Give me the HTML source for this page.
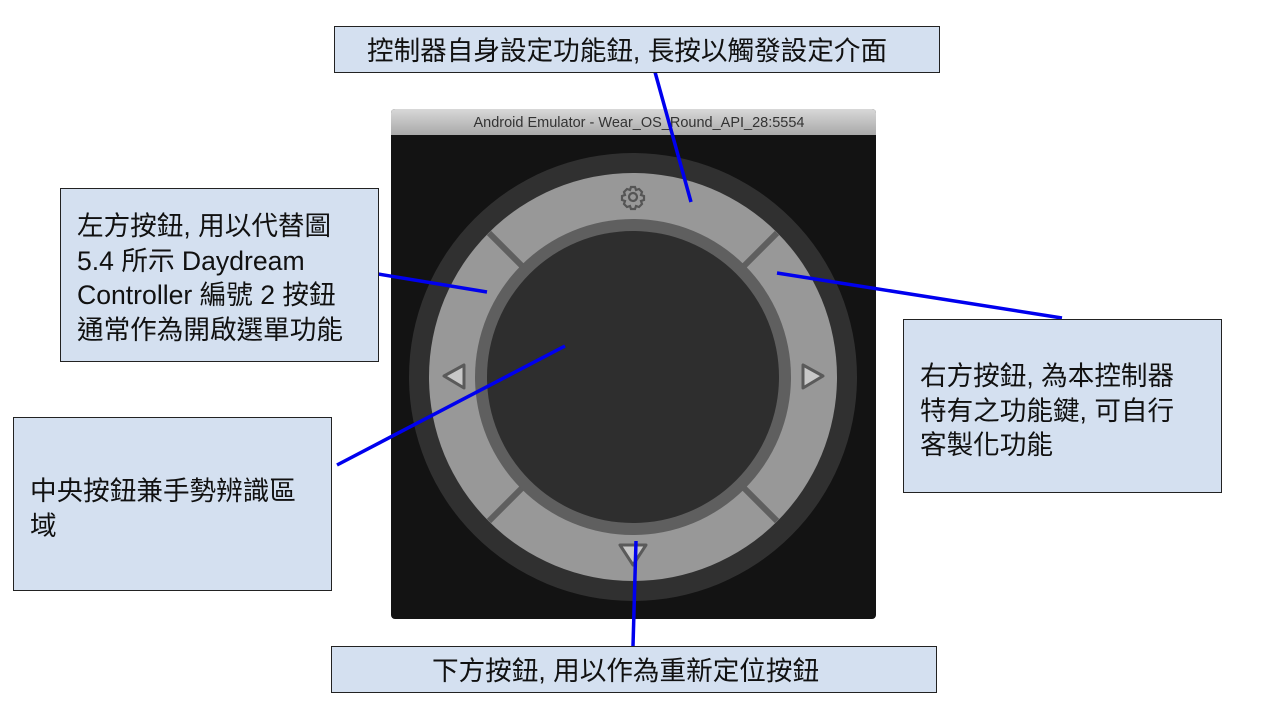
<!DOCTYPE html>
<html><head><meta charset="utf-8"><style>
html,body{margin:0;padding:0;background:#fff;width:1282px;height:722px;overflow:hidden}
.box{position:absolute;background:#d4e0f0;border:1.5px solid #222;box-sizing:border-box;font-family:"Liberation Sans","Noto Sans CJK TC",sans-serif;font-size:26.6px;color:#111;line-height:34.5px;white-space:nowrap}
</style></head><body>
<svg width="1282" height="722" style="position:absolute;left:0;top:0">
<defs><linearGradient id="tb" x1="0" y1="0" x2="0" y2="1"><stop offset="0" stop-color="#d8d8d8"/><stop offset="1" stop-color="#a9a9a9"/></linearGradient></defs>
<rect x="391" y="109" width="485" height="510" rx="4" fill="#131313"/>
<path d="M391 135 V113 a4 4 0 0 1 4 -4 H872 a4 4 0 0 1 4 4 V135 Z" fill="url(#tb)"/>
<text x="639" y="127" text-anchor="middle" font-family="Liberation Sans,sans-serif" font-size="14.5" fill="#333">Android Emulator - Wear_OS_Round_API_28:5554</text>
<circle cx="633" cy="377" r="224" fill="#303030"/>
<circle cx="633" cy="377" r="204" fill="#989898"/>
<g stroke="#5f5f5f" stroke-width="6">
<line x1="489" y1="233" x2="525" y2="269"/><line x1="777" y1="233" x2="741" y2="269"/>
<line x1="489" y1="521" x2="525" y2="485"/><line x1="777" y1="521" x2="741" y2="485"/>
</g>
<circle cx="633" cy="377" r="158" fill="#5f5f5f"/>
<circle cx="633" cy="377" r="146" fill="#2e2e2e"/>
<g fill="#c8c8c8" stroke="#5a5a5a" stroke-width="3" stroke-linejoin="round">
<polygon points="464,365 464,388 444,376"/>
<polygon points="803,365 803,388 823,376"/>
<polygon points="620,545 646,545 633,565"/>
</g>
<g transform="translate(633,197)" fill="none" stroke="#555" stroke-width="2.2">
<circle r="4"/>
<path d="M-2 -10 h4 l1 3 l3 -1 l3 3 l-1 3 l3 1 v4 l-3 1 l1 3 l-3 3 l-3 -1 l-1 3 h-4 l-1 -3 l-3 1 l-3 -3 l1 -3 l-3 -1 v-4 l3 -1 l-1 -3 l3 -3 l3 1 z"/>
</g>
<g stroke="#0000ee" stroke-width="3.5" stroke-linecap="butt">
<line x1="655" y1="72" x2="691" y2="202"/>
<line x1="378" y1="274" x2="487" y2="292"/>
<line x1="777" y1="273" x2="1062" y2="318"/>
<line x1="337" y1="465" x2="565" y2="346"/>
<line x1="636" y1="541" x2="633" y2="646"/>
</g>
</svg>
<div class="box" style="left:334px;top:26px;width:606px;height:47px;padding:7px 0 0 32px">控制器自身設定功能鈕, 長按以觸發設定介面</div>
<div class="box" style="left:60px;top:188px;width:319px;height:174px;padding:20px 0 0 16px">左方按鈕, 用以代替圖<br>5.4 所示 Daydream<br>Controller 編號 2 按鈕<br>通常作為開啟選單功能</div>
<div class="box" style="left:903px;top:319px;width:319px;height:174px;padding:39px 0 0 16px">右方按鈕, 為本控制器<br>特有之功能鍵, 可自行<br>客製化功能</div>
<div class="box" style="left:13px;top:417px;width:319px;height:174px;padding:56px 0 0 16px">中央按鈕兼手勢辨識區<br>域</div>
<div class="box" style="left:331px;top:646px;width:606px;height:47px;padding:7px 0 0 100px">下方按鈕, 用以作為重新定位按鈕</div>
</body></html>
